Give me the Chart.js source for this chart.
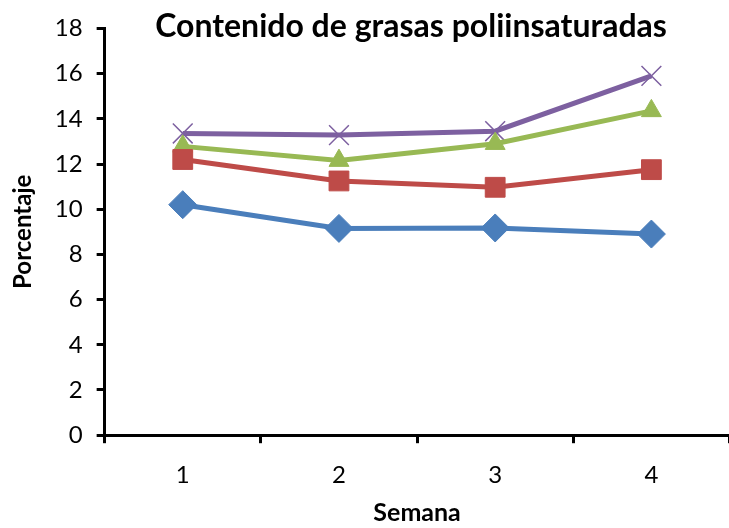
<!DOCTYPE html>
<html>
<head>
<meta charset="utf-8">
<script src="https://cdn.jsdelivr.net/npm/chart.js@4"></script>
<style>
  html, body { margin: 0; padding: 0; background: #fff; overflow: hidden; }
  #wrap { width: 745px; height: 528px; position: relative; }
</style>
</head>
<body>
<div id="wrap"><canvas id="c"></canvas></div>
<script>
const weeks = ["1", "2", "3", "4"]
const serieA = [10.2, 9.15, 9.17, 8.9]
const serieB = [12.2, 11.25, 10.97, 11.75]
const serieC = [12.78, 12.15, 12.9, 14.35]
const serieD = [13.35, 13.28, 13.45, 15.9]
const chartTitle = "Contenido de grasas poliinsaturadas"

const FONT = "Lato, 'Open Sans', sans-serif"

// title drawn over the plot like the original, centred on the chart area
const titlePlugin = {
  id: "overTitle",
  afterDraw(chart) {
    const { ctx, chartArea } = chart
    ctx.save()
    ctx.font = `bold 32px ${FONT}`
    ctx.fillStyle = "#000"
    ctx.textAlign = "center"
    ctx.textBaseline = "middle"
    ctx.fillText(chartTitle, (chartArea.left + chartArea.right) / 2 - 6, 27)
    ctx.restore()
  }
}

function series(data, color, style, radius) {
  return {
    data,
    borderColor: color,
    backgroundColor: color,
    pointBackgroundColor: color,
    pointBorderColor: color,
    borderWidth: 5,
    pointStyle: style,
    pointRadius: radius,
    pointBorderWidth: style === "crossRot" ? 1.5 : 1,
    tension: 0,
  }
}

new Chart(document.getElementById("c"), {
  type: "line",
  data: {
    labels: weeks,
    datasets: [
      series(serieA, "#4A7EBB", "rectRot", 14),
      series(serieB, "#BE4B48", "rect", 14),
      series(serieC, "#98B954", "triangle", 11.5),
      series(serieD, "#7D60A0", "crossRot", 14),
    ]
  },
  options: {
    responsive: true,
    maintainAspectRatio: false,
    animation: false,
    layout: { padding: { top: 17, right: 0, left: 5, bottom: 0 } },
    plugins: {
      legend: { display: false },
      tooltip: { enabled: false }
    },
    scales: {
      x: {
        offset: true,
        grid: { offset: true, drawOnChartArea: false, tickLength: 8, color: "#000", lineWidth: 3 },
        border: { color: "#000", width: 3 },
        ticks: { color: "#000", font: { family: FONT, size: 24 }, padding: 18 },
        title: { display: true, text: "Semana", color: "#000", font: { family: FONT, size: 25, weight: "bold" }, padding: { top: -10, bottom: 0 } }
      },
      y: {
        min: 0,
        max: 18,
        ticks: { stepSize: 2, color: "#000", font: { family: FONT, size: 24 }, padding: 14 },
        grid: { drawOnChartArea: false, tickLength: 8, color: "#000", lineWidth: 3 },
        border: { color: "#000", width: 3 },
        title: { display: true, text: "Porcentaje", color: "#000", font: { family: FONT, size: 24, weight: "bold" }, padding: { bottom: 3 } }
      }
    }
  },
  plugins: [titlePlugin]
})
</script>
</body>
</html>
